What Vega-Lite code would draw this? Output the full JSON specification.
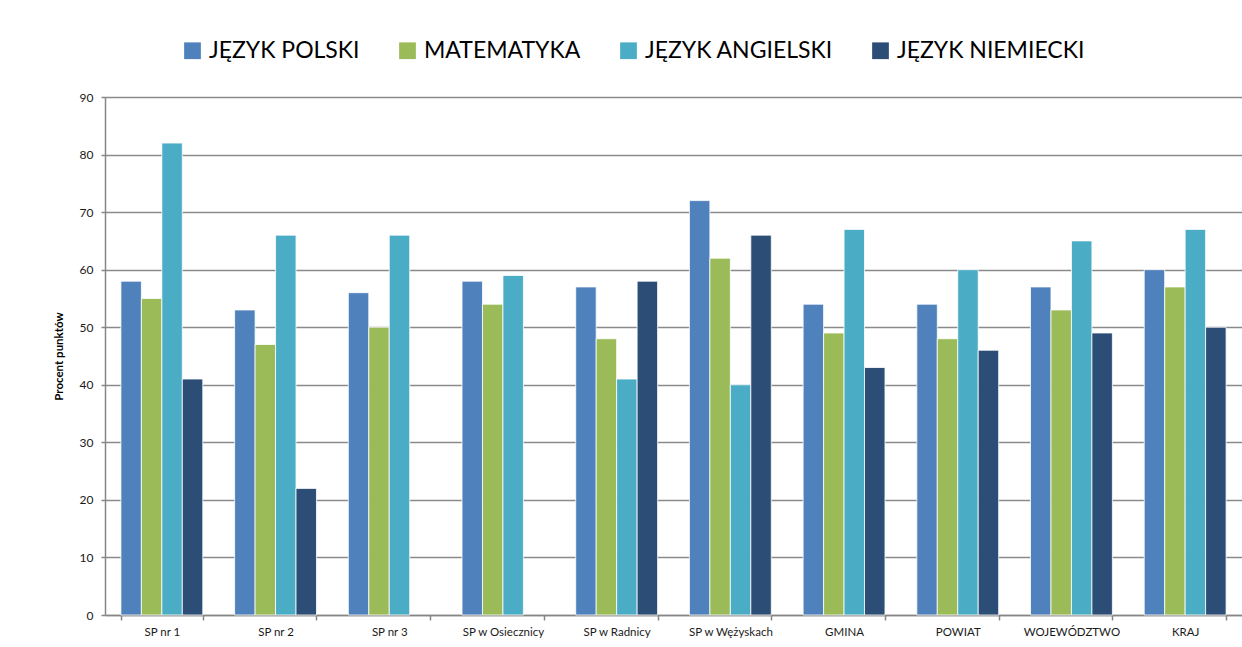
{
  "$schema": "https://vega.github.io/schema/vega-lite/v6.json",
  "autosize": {"type": "none"},
  "width": 1137,
  "height": 518,
  "padding": {"left": 105, "top": 97, "right": 0, "bottom": 32},
  "background": "white",
  "config": {
    "view": {"stroke": null},
    "font": "Lato"
  },
  "data": {
    "values": [
      {"szkola": "SP nr 1", "przedmiot": "JĘZYK POLSKI", "wynik": 58},
      {"szkola": "SP nr 1", "przedmiot": "MATEMATYKA", "wynik": 55},
      {"szkola": "SP nr 1", "przedmiot": "JĘZYK ANGIELSKI", "wynik": 82},
      {"szkola": "SP nr 1", "przedmiot": "JĘZYK NIEMIECKI", "wynik": 41},
      {"szkola": "SP nr 2", "przedmiot": "JĘZYK POLSKI", "wynik": 53},
      {"szkola": "SP nr 2", "przedmiot": "MATEMATYKA", "wynik": 47},
      {"szkola": "SP nr 2", "przedmiot": "JĘZYK ANGIELSKI", "wynik": 66},
      {"szkola": "SP nr 2", "przedmiot": "JĘZYK NIEMIECKI", "wynik": 22},
      {"szkola": "SP nr 3", "przedmiot": "JĘZYK POLSKI", "wynik": 56},
      {"szkola": "SP nr 3", "przedmiot": "MATEMATYKA", "wynik": 50},
      {"szkola": "SP nr 3", "przedmiot": "JĘZYK ANGIELSKI", "wynik": 66},
      {"szkola": "SP w Osiecznicy", "przedmiot": "JĘZYK POLSKI", "wynik": 58},
      {"szkola": "SP w Osiecznicy", "przedmiot": "MATEMATYKA", "wynik": 54},
      {"szkola": "SP w Osiecznicy", "przedmiot": "JĘZYK ANGIELSKI", "wynik": 59},
      {"szkola": "SP w Radnicy", "przedmiot": "JĘZYK POLSKI", "wynik": 57},
      {"szkola": "SP w Radnicy", "przedmiot": "MATEMATYKA", "wynik": 48},
      {"szkola": "SP w Radnicy", "przedmiot": "JĘZYK ANGIELSKI", "wynik": 41},
      {"szkola": "SP w Radnicy", "przedmiot": "JĘZYK NIEMIECKI", "wynik": 58},
      {"szkola": "SP w Wężyskach", "przedmiot": "JĘZYK POLSKI", "wynik": 72},
      {"szkola": "SP w Wężyskach", "przedmiot": "MATEMATYKA", "wynik": 62},
      {"szkola": "SP w Wężyskach", "przedmiot": "JĘZYK ANGIELSKI", "wynik": 40},
      {"szkola": "SP w Wężyskach", "przedmiot": "JĘZYK NIEMIECKI", "wynik": 66},
      {"szkola": "GMINA", "przedmiot": "JĘZYK POLSKI", "wynik": 54},
      {"szkola": "GMINA", "przedmiot": "MATEMATYKA", "wynik": 49},
      {"szkola": "GMINA", "przedmiot": "JĘZYK ANGIELSKI", "wynik": 67},
      {"szkola": "GMINA", "przedmiot": "JĘZYK NIEMIECKI", "wynik": 43},
      {"szkola": "POWIAT", "przedmiot": "JĘZYK POLSKI", "wynik": 54},
      {"szkola": "POWIAT", "przedmiot": "MATEMATYKA", "wynik": 48},
      {"szkola": "POWIAT", "przedmiot": "JĘZYK ANGIELSKI", "wynik": 60},
      {"szkola": "POWIAT", "przedmiot": "JĘZYK NIEMIECKI", "wynik": 46},
      {"szkola": "WOJEWÓDZTWO", "przedmiot": "JĘZYK POLSKI", "wynik": 57},
      {"szkola": "WOJEWÓDZTWO", "przedmiot": "MATEMATYKA", "wynik": 53},
      {"szkola": "WOJEWÓDZTWO", "przedmiot": "JĘZYK ANGIELSKI", "wynik": 65},
      {"szkola": "WOJEWÓDZTWO", "przedmiot": "JĘZYK NIEMIECKI", "wynik": 49},
      {"szkola": "KRAJ", "przedmiot": "JĘZYK POLSKI", "wynik": 60},
      {"szkola": "KRAJ", "przedmiot": "MATEMATYKA", "wynik": 57},
      {"szkola": "KRAJ", "przedmiot": "JĘZYK ANGIELSKI", "wynik": 67},
      {"szkola": "KRAJ", "przedmiot": "JĘZYK NIEMIECKI", "wynik": 50}
    ]
  },
  "mark": {"type": "bar", "stroke": "white", "strokeWidth": 0.8},
  "encoding": {
    "x": {
      "field": "szkola",
      "type": "nominal",
      "sort": null,
      "scale": {"paddingInner": 0.28, "paddingOuter": 0.14},
      "axis": {
        "title": null,
        "labelAngle": 0,
        "labelFont": "Lato",
        "labelFontSize": 11.5,
        "labelColor": "#1a1a1a",
        "labelPadding": 6,
        "domainColor": "#868686",
        "domainWidth": 1.5,
        "tickColor": "#868686",
        "tickWidth": 1.5,
        "tickSize": 5,
        "tickBand": "extent",
        "grid": false
      }
    },
    "xOffset": {
      "field": "przedmiot",
      "type": "nominal",
      "sort": ["JĘZYK POLSKI", "MATEMATYKA", "JĘZYK ANGIELSKI", "JĘZYK NIEMIECKI"],
      "scale": {"paddingInner": 0, "paddingOuter": 0}
    },
    "y": {
      "field": "wynik",
      "type": "quantitative",
      "scale": {"domain": [0, 90], "nice": false},
      "axis": {
        "title": "Procent punktów",
        "titleFont": "Lato",
        "titleFontSize": 11.5,
        "titleFontWeight": "bold",
        "titleColor": "#000000",
        "titleX": -41,
        "values": [0, 10, 20, 30, 40, 50, 60, 70, 80, 90],
        "labelFont": "Lato",
        "labelFontSize": 12,
        "labelColor": "#1a1a1a",
        "labelPadding": 8,
        "domainColor": "#868686",
        "domainWidth": 1.5,
        "tickColor": "#868686",
        "tickWidth": 1.5,
        "tickSize": 4,
        "grid": true,
        "gridColor": "#8a8a8a",
        "gridWidth": 1.5
      }
    },
    "color": {
      "field": "przedmiot",
      "type": "nominal",
      "sort": ["JĘZYK POLSKI", "MATEMATYKA", "JĘZYK ANGIELSKI", "JĘZYK NIEMIECKI"],
      "scale": {
        "domain": ["JĘZYK POLSKI", "MATEMATYKA", "JĘZYK ANGIELSKI", "JĘZYK NIEMIECKI"],
        "range": ["#4F81BD", "#9BBB59", "#4BACC6", "#2C4D75"]
      },
      "legend": {
        "title": null,
        "orient": "none",
        "direction": "horizontal",
        "legendX": 76,
        "legendY": -58,
        "padding": 0,
        "symbolType": "square",
        "symbolSize": 280,
        "symbolStrokeWidth": 0,
        "labelFont": "Lato",
        "labelFontSize": 23,
        "labelColor": "#000000",
        "labelOffset": 5,
        "columnPadding": 36,
        "labelLimit": 400
      }
    }
  }
}
